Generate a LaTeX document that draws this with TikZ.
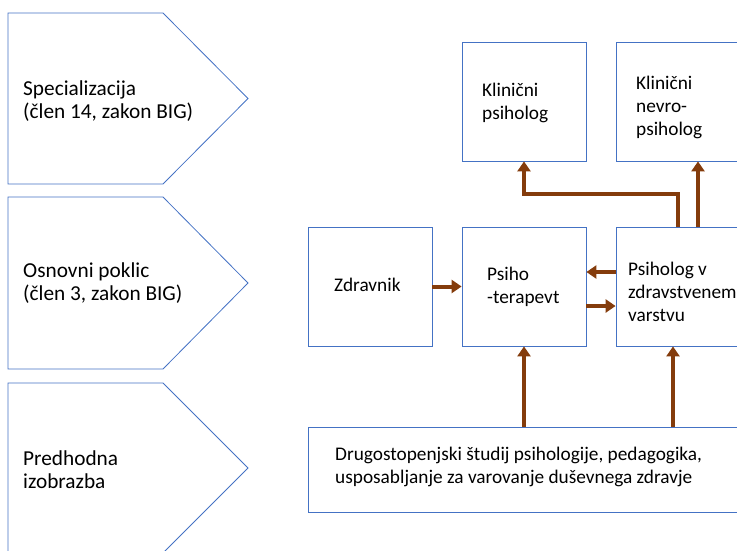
\documentclass[tikz,border=0pt]{standalone}
\usepackage{fontspec}
\setmainfont{Carlito}
\usetikzlibrary{arrows.meta}
\definecolor{bord}{HTML}{4472C4}
\definecolor{arr}{HTML}{843C0C}
\begin{document}
\begin{tikzpicture}[x=1pt,y=-1pt,
  box/.style={draw=bord,line width=0.8pt,fill=white,inner sep=0pt},
  lbl/.style={anchor=west,align=left,inner sep=0pt,font=\fontsize{21.3}{23}\selectfont},
  rlbl/.style={anchor=west,align=left,inner sep=0pt,font=\fontsize{19.3}{23}\selectfont},
  conn/.style={draw=arr,line width=4pt,-{Triangle[width=13pt,length=10pt]}}]
\useasboundingbox (0,0) rectangle (737,550);
\clip (0,0) rectangle (737,550);
% left pentagons
\draw[bord,line width=0.8pt] (8,13) -- (163,13) -- (248,98.5) -- (163,184) -- (8,184) -- cycle;
\draw[bord,line width=0.8pt] (8,197) -- (163,197) -- (248,283) -- (163,369) -- (8,369) -- cycle;
\draw[bord,line width=0.8pt] (8,383) -- (163,383) -- (248,468) -- (163,553) -- (8,553) -- cycle;
\node[lbl] (t1) at (23,101) {Specializacija\\(člen 14, zakon BIG)};
\node[lbl] (t2) at (23,283) {Osnovni poklic\\(člen 3, zakon BIG)};
\node[lbl] (t3) at (23,470) {Predhodna\\izobrazba};
% boxes
\node[box,minimum width=124,minimum height=119] (kp) at (524,101.5) {};
\node[box,minimum width=124,minimum height=119] (knp) at (678,101.5) {};
\node[box,minimum width=124,minimum height=119] (zd) at (370,286.5) {};
\node[box,minimum width=124,minimum height=119] (pt) at (524,286.5) {};
\node[box,minimum width=124,minimum height=119] (pv) at (678,286.5) {};
\node[box,minimum width=440,minimum height=85] (bt) at (528,469.5) {};
% texts
\node[rlbl] (kpt) at (482,103) {Klinični\\psiholog};
\node[rlbl] (knpt) at (636,107) {Klinični\\nevro-\\psiholog};
\node[rlbl] (zdt) at (334,285) {Zdravnik};
\node[rlbl] (ptt) at (487,287) {Psiho\\-terapevt};
\node[rlbl] (pvt) at (628,292) {Psiholog v\\zdravstvenem\\varstvu};
\node[rlbl] (btt) at (335,467) {Drugostopenjski študij psihologije, pedagogika,\\usposabljanje za varovanje duševnega zdravje};
% connectors
\draw[conn] (zd.east) -- (pt.west);
\draw[conn] ([yshift=14.5pt]pv.west) -- ([yshift=14.5pt]pt.east);
\draw[conn] ([yshift=-19.5pt]pt.east) -- ([yshift=-19.5pt]pv.west);
\draw[conn] (pt.south |- bt.north) -- (pt.south);
\draw[conn] (673,427) coordinate (b2) -- (b2 |- pv.south);
\draw[conn] (678,227) coordinate (p1) -- (678,194) -- (kp.south |- 0,194) -- (kp.south);
\draw[conn] (698,227) coordinate (p2) -- (p2 |- knp.south);
\end{tikzpicture}
\end{document}
